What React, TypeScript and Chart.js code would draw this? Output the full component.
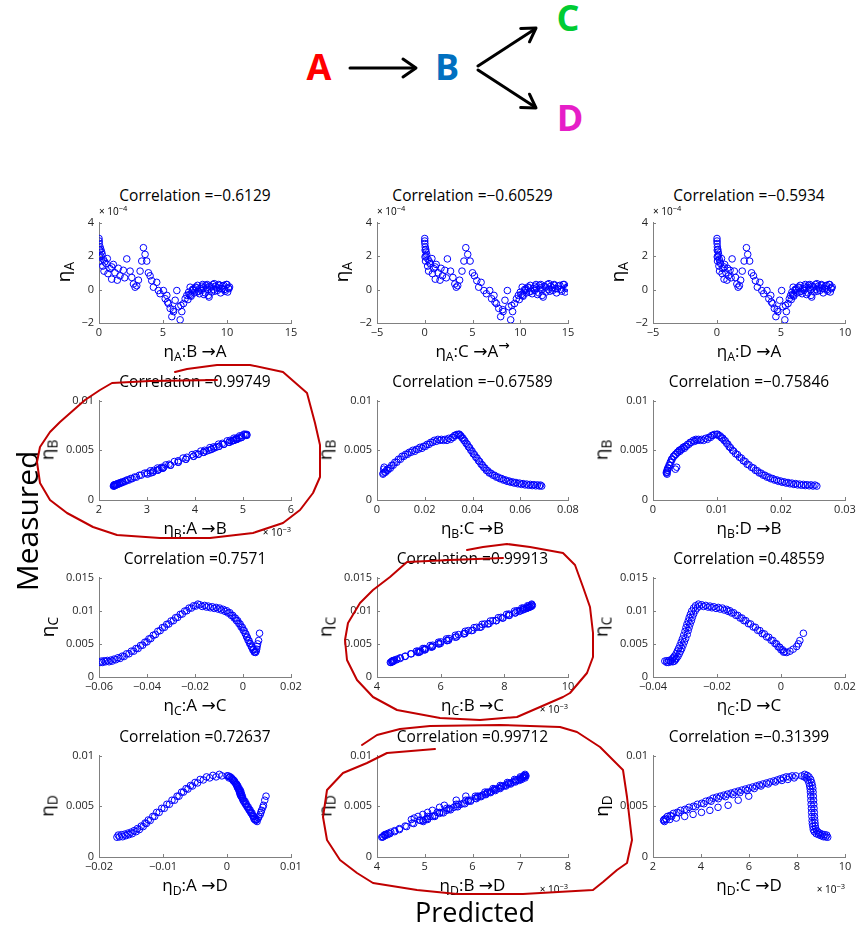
import React, { useEffect, useRef } from 'react';
import { Chart, registerables } from 'chart.js';

Chart.register(...registerables);

const FONT = '"Open Sans", "DejaVu Sans", sans-serif';
const AXIS_COLOR = '#808080';
const TICK_COLOR = '#262626';
const MARK = 'rgb(0,0,255)';
const RED = '#c00000';

// ---------- Row 1: eta_A (values in units of 1e-4) ----------
const etaA = [
  3.05, 2.75, 2.55, 2.40, 2.25, 2.10, 1.95, 1.70, 1.80, 1.55,
  1.85, 1.10, 1.25, 1.50, 1.00, 0.62, 1.27, 0.82, 1.15, 1.83,
  0.56, 1.10, 0.72, 0.33, 0.14, 0.23, 0.56, 1.10, 1.70, 2.50,
  2.10, 1.70, 1.00, 0.82, 0.53, 0.14, 0.43, -0.06, -0.25, -0.06,
  -0.55, -0.35, -0.84, -1.13, -1.62, -1.32, -0.64, -0.06, -1.03, -1.81,
  -1.32, -0.84, -0.55, -0.35, -0.16, 0.14, -0.40, 0.00, -0.20, 0.10,
  -0.10, 0.05, 0.20, -0.30, 0.25, 0.00, -0.45, 0.15, 0.30, -0.10,
  0.10, 0.30, -0.20, 0.20, 0.00, 0.30, -0.15, 0.15, -0.05, 0.15,
  -0.25, 0.10, 0.30, -0.15, 0.20, 0.05, 0.25, 0.10, -0.30, -0.60,
  -0.35, 0.05, -0.15, 0.25, -0.05, 0.30, -0.20, 0.10, -0.35, 0.20,
  0.00, 0.35, -0.05, 0.25, 0.05, -0.10, 0.30, 0.05, 2.90, 2.35,
  2.00, 1.40, 1.65, 0.95, 1.35, 0.70, -0.75, -1.20, -0.95,
];
const xA_BA = [
  0.00, 0.02, 0.08, 0.14, 0.20, 0.25, 0.04, 0.08, 0.34, 0.55,
  0.65, 0.39, 0.86, 1.12, 1.25, 0.99, 1.51, 1.64, 1.90, 2.17,
  1.43, 2.43, 2.56, 2.69, 2.82, 2.95, 3.08, 3.21, 3.34, 3.47,
  3.60, 3.73, 3.86, 3.99, 4.12, 4.25, 4.51, 4.64, 4.77, 5.03,
  5.17, 5.30, 5.43, 5.56, 5.69, 5.82, 5.95, 6.08, 6.21, 6.34,
  6.47, 6.60, 6.73, 6.86, 7.00, 7.12, 7.20, 7.30, 7.45, 7.60,
  7.75, 7.90, 8.05, 8.20, 8.35, 8.50, 8.60, 8.75, 8.90, 9.05,
  9.20, 9.35, 9.50, 9.65, 9.80, 9.95, 10.05, 10.20, 7.35, 7.55,
  7.85, 8.15, 8.45, 8.80, 9.10, 9.45, 9.75, 10.10, 7.05, 6.95,
  7.15, 7.40, 7.65, 7.70, 8.00, 8.10, 8.30, 8.40, 8.55, 8.65,
  8.95, 9.00, 9.25, 9.40, 9.60, 9.85, 10.00, 10.15, 0.01, 0.05,
  0.15, 0.30, 0.45, 0.70, 1.00, 2.00, 5.35, 5.80, 6.40,
];
const xA_CA = [
  0.00, 0.01, 0.05, 0.10, 0.14, 0.20, 0.03, 0.08, 0.35, 0.55,
  0.75, 0.40, 0.95, 1.20, 1.40, 1.10, 1.70, 1.85, 2.10, 2.37,
  1.60, 2.70, 2.95, 3.15, 3.30, 3.45, 3.65, 3.90, 4.10, 4.30,
  4.50, 4.75, 5.00, 5.20, 5.45, 5.65, 5.90, 6.20, 6.45, 6.80,
  7.00, 7.25, 7.50, 7.75, 7.95, 8.20, 8.40, 8.65, 8.80, 9.00,
  9.20, 9.40, 9.60, 9.80, 10.00, 10.20, 10.30, 10.45, 10.65, 10.90,
  11.10, 11.35, 11.55, 11.80, 12.00, 12.25, 12.40, 12.65, 12.85, 13.10,
  13.35, 13.55, 13.80, 14.00, 14.25, 14.50, 14.70, 14.95, 10.55, 10.80,
  11.25, 11.70, 12.15, 12.70, 13.20, 13.70, 14.15, 14.80, 10.10, 9.90,
  10.25, 10.60, 10.95, 11.05, 11.50, 11.65, 11.95, 12.10, 12.30, 12.50,
  12.95, 13.00, 13.40, 13.60, 13.90, 14.35, 14.60, 14.90, 0.00, 0.04,
  0.12, 0.30, 0.50, 0.80, 1.10, 2.25, 7.35, 8.15, 9.10,
];
const xA_DA = [
  0.00, 0.01, 0.03, 0.06, 0.09, 0.12, 0.02, 0.04, 0.18, 0.28,
  0.35, 0.20, 0.45, 0.60, 0.70, 0.55, 0.82, 0.90, 1.02, 1.18,
  0.78, 1.35, 1.45, 1.55, 1.65, 1.75, 1.85, 1.97, 2.12, 2.30,
  2.40, 2.55, 2.70, 2.85, 3.00, 3.15, 3.35, 3.50, 3.65, 3.90,
  4.05, 4.20, 4.35, 4.48, 4.60, 4.75, 4.90, 5.05, 5.15, 5.30,
  5.42, 5.55, 5.65, 5.75, 5.85, 5.95, 6.00, 6.10, 6.25, 6.40,
  6.55, 6.70, 6.85, 7.00, 7.15, 7.30, 7.40, 7.55, 7.70, 7.85,
  8.00, 8.15, 8.30, 8.45, 8.60, 8.75, 8.85, 9.00, 6.15, 6.35,
  6.65, 6.95, 7.25, 7.60, 7.90, 8.25, 8.55, 8.90, 5.90, 5.80,
  5.97, 6.20, 6.45, 6.50, 6.80, 6.90, 7.10, 7.20, 7.35, 7.45,
  7.75, 7.80, 8.05, 8.20, 8.40, 8.65, 8.80, 8.95, 0.00, 0.02,
  0.07, 0.15, 0.23, 0.40, 0.55, 1.10, 4.25, 4.70, 5.35,
];

// ---------- Row 2: eta_B ----------
const etaB = [
  0.00140, 0.00141, 0.00143, 0.00145, 0.00148, 0.00152, 0.00157, 0.00163, 0.00170, 0.00178,
  0.00188, 0.00200, 0.00214, 0.00230, 0.00250, 0.00272, 0.00298, 0.00328, 0.00360, 0.00395,
  0.00430, 0.00465, 0.00500, 0.00535, 0.00570, 0.00600, 0.00625, 0.00645, 0.00660,
  0.0066, 0.0065, 0.0063, 0.0062, 0.0061, 0.0061, 0.0061, 0.0060, 0.0058, 0.0056,
  0.0054, 0.0053, 0.0051, 0.0050, 0.0048, 0.0046, 0.0044, 0.0041, 0.0038, 0.0035,
  0.0032, 0.0030, 0.0028, 0.0027, 0.0026,
  0.0033, 0.0031,
  0.00150, 0.00152, 0.00154, 0.00157, 0.00160, 0.00165, 0.00170, 0.00176, 0.00183, 0.00192,
  0.00203, 0.00216, 0.00231, 0.00249, 0.00270, 0.00294, 0.00322, 0.00353, 0.00387, 0.00422,
  0.00457, 0.00492, 0.00527, 0.00562, 0.00595, 0.00622, 0.00645, 0.00662,
  0.0065, 0.0063, 0.0061, 0.0060, 0.0060, 0.0060, 0.0059, 0.0058, 0.0056, 0.0054,
  0.0052, 0.0051, 0.0049, 0.0048, 0.0046, 0.0044, 0.0041, 0.0038, 0.0035, 0.0032,
  0.0030, 0.0028,
];
// eta_B : A -> B, units of 1e-3
const xB_AB = [
  2.30, 2.31, 2.32, 2.33, 2.34, 2.36, 2.39, 2.42, 2.46, 2.50,
  2.55, 2.62, 2.69, 2.78, 2.88, 3.00, 3.14, 3.30, 3.46, 3.65,
  3.83, 4.02, 4.20, 4.39, 4.57, 4.73, 4.87, 4.97, 5.05,
  5.08, 5.06, 4.97, 4.92, 4.87, 4.86, 4.85, 4.81, 4.71, 4.60,
  4.50, 4.44, 4.34, 4.29, 4.18, 4.07, 3.97, 3.81, 3.65, 3.49,
  3.33, 3.23, 3.12, 3.07, 3.01,
  3.35, 3.25,
  2.31, 2.32, 2.33, 2.35, 2.37, 2.39, 2.42, 2.45, 2.49, 2.54,
  2.59, 2.66, 2.74, 2.84, 2.95, 3.07, 3.22, 3.39, 3.57, 3.75,
  3.94, 4.12, 4.31, 4.49, 4.67, 4.81, 4.93, 5.02,
  5.08, 4.97, 4.87, 4.81, 4.80, 4.79, 4.76, 4.71, 4.60, 4.50,
  4.39, 4.34, 4.23, 4.18, 4.07, 3.97, 3.81, 3.65, 3.49, 3.33,
  3.22, 3.12,
];
const xB_CB = [
  0.0690, 0.0680, 0.0665, 0.0650, 0.0635, 0.0620, 0.0605, 0.0590, 0.0575, 0.0560,
  0.0545, 0.0530, 0.0515, 0.0500, 0.0485, 0.0470, 0.0458, 0.0447, 0.0436, 0.0425,
  0.0414, 0.0403, 0.0393, 0.0383, 0.0373, 0.0364, 0.0356, 0.0349, 0.0342,
  0.0335, 0.0325, 0.0315, 0.0300, 0.0285, 0.0270, 0.0255, 0.0240, 0.0225, 0.0210,
  0.0195, 0.0180, 0.0165, 0.0150, 0.0135, 0.0120, 0.0105, 0.0090, 0.0075, 0.0062,
  0.0050, 0.0040, 0.0032, 0.0026, 0.0025,
  0.0030, 0.0028,
  0.0685, 0.0672, 0.0657, 0.0642, 0.0627, 0.0612, 0.0597, 0.0582, 0.0567, 0.0552,
  0.0537, 0.0522, 0.0507, 0.0492, 0.0477, 0.0464, 0.0452, 0.0441, 0.0430, 0.0419,
  0.0408, 0.0398, 0.0388, 0.0378, 0.0368, 0.0360, 0.0352, 0.0345,
  0.0330, 0.0320, 0.0308, 0.0293, 0.0278, 0.0263, 0.0248, 0.0233, 0.0218, 0.0203,
  0.0188, 0.0173, 0.0158, 0.0143, 0.0128, 0.0113, 0.0098, 0.0083, 0.0068, 0.0056,
  0.0045, 0.0036,
];
const xB_DB = [
  0.0256, 0.0250, 0.0244, 0.0238, 0.0232, 0.0226, 0.0220, 0.0214, 0.0208, 0.0202,
  0.0196, 0.0190, 0.0184, 0.0178, 0.0172, 0.0166, 0.0160, 0.0154, 0.0147, 0.0141,
  0.0135, 0.0129, 0.0124, 0.0119, 0.0115, 0.0111, 0.0107, 0.0103, 0.0099,
  0.0096, 0.0092, 0.0087, 0.0082, 0.0076, 0.0071, 0.0067, 0.0063, 0.0058, 0.0054,
  0.0050, 0.0047, 0.0044, 0.0041, 0.0038, 0.0035, 0.0032, 0.0029, 0.0027, 0.0025,
  0.0023, 0.0022, 0.0021, 0.0021, 0.0022,
  0.0037, 0.0035,
  0.0253, 0.0247, 0.0241, 0.0235, 0.0229, 0.0223, 0.0217, 0.0211, 0.0205, 0.0199,
  0.0193, 0.0187, 0.0181, 0.0175, 0.0169, 0.0163, 0.0157, 0.0150, 0.0144, 0.0138,
  0.0132, 0.0126, 0.0121, 0.0117, 0.0113, 0.0109, 0.0105, 0.0101,
  0.0094, 0.0090, 0.0085, 0.0079, 0.0074, 0.0069, 0.0065, 0.0060, 0.0056, 0.0052,
  0.0049, 0.0045, 0.0042, 0.0039, 0.0036, 0.0033, 0.0030, 0.0028, 0.0026, 0.0024,
  0.0023, 0.0022,
];

// ---------- Row 3: eta_C ----------
const etaC = [
  0.0022, 0.0022, 0.0023, 0.0023, 0.0024, 0.0026, 0.0028, 0.0031, 0.0035, 0.0039,
  0.0043, 0.0048, 0.0053, 0.0058, 0.0064, 0.0070, 0.0075, 0.0080, 0.0085, 0.0090,
  0.0095, 0.0100, 0.0104, 0.0107, 0.0109,
  0.0108, 0.0107, 0.0106, 0.0105, 0.0104, 0.0102, 0.0100, 0.0097, 0.0093, 0.0089,
  0.0085, 0.0080, 0.0075, 0.0070, 0.0065, 0.0060, 0.0055, 0.0050, 0.0045, 0.0041,
  0.0038, 0.0037,
  0.0039, 0.0042, 0.0046, 0.0050, 0.0055, 0.0066,
  0.0024, 0.00245, 0.0025, 0.00255, 0.0027, 0.0029, 0.00315, 0.0035, 0.0039, 0.0043,
  0.00475, 0.00525, 0.00575, 0.0063, 0.0069, 0.00745, 0.00795, 0.00845, 0.00895, 0.00945,
  0.00995, 0.0104, 0.01075, 0.0110,
  0.01065, 0.01055, 0.01045, 0.01035, 0.01025, 0.0101, 0.0099, 0.00965, 0.0093, 0.0089,
  0.0085, 0.00805, 0.00755, 0.00705, 0.00655, 0.00605, 0.00555, 0.00505, 0.00455, 0.0041,
  0.00375,
];
const xC_AC = [
  -0.0595, -0.0585, -0.0572, -0.0558, -0.0545, -0.0530, -0.0512, -0.0495, -0.0475, -0.0455,
  -0.0437, -0.0418, -0.0400, -0.0384, -0.0365, -0.0345, -0.0327, -0.0309, -0.0290, -0.0272,
  -0.0253, -0.0234, -0.0215, -0.0197, -0.0180,
  -0.0160, -0.0145, -0.0128, -0.0112, -0.0097, -0.0082, -0.0068, -0.0055, -0.0043, -0.0032,
  -0.0022, -0.0012, -0.0003, 0.0005, 0.0012, 0.0018, 0.0025, 0.0031, 0.0038, 0.0044,
  0.0049, 0.0052,
  0.0055, 0.0057, 0.0059, 0.0061, 0.0065, 0.0069,
  -0.0590, -0.0578, -0.0565, -0.0551, -0.0537, -0.0521, -0.0503, -0.0485, -0.0465, -0.0446,
  -0.0427, -0.0409, -0.0392, -0.0374, -0.0355, -0.0336, -0.0318, -0.0300, -0.0281, -0.0262,
  -0.0243, -0.0225, -0.0206, -0.0188,
  -0.0170, -0.0152, -0.0136, -0.0120, -0.0104, -0.0090, -0.0075, -0.0062, -0.0049, -0.0037,
  -0.0027, -0.0017, -0.0008, 0.0001, 0.0009, 0.0015, 0.0021, 0.0028, 0.0035, 0.0041,
  0.0047,
];
// eta_C : B -> C, units of 1e-3
const xC_BC = [
  4.42, 4.44, 4.47, 4.49, 4.52, 4.62, 4.73, 4.88, 5.08, 5.29,
  5.49, 5.75, 6.00, 6.26, 6.56, 6.87, 7.13, 7.38, 7.64, 7.89,
  8.14, 8.40, 8.60, 8.76, 8.86,
  8.88, 8.84, 8.80, 8.75, 8.70, 8.60, 8.50, 8.35, 8.14, 7.94,
  7.74, 7.48, 7.23, 6.97, 6.72, 6.46, 6.21, 5.95, 5.70, 5.49,
  5.34, 5.29,
  5.37, 5.52, 5.73, 5.93, 6.19, 6.75,
  4.47, 4.50, 4.52, 4.55, 4.63, 4.73, 4.89, 5.06, 5.24, 5.44,
  5.67, 5.93, 6.18, 6.46, 6.77, 7.05, 7.30, 7.56, 7.81, 8.07,
  8.32, 8.55, 8.73, 8.86,
  8.85, 8.80, 8.75, 8.70, 8.64, 8.57, 8.47, 8.34, 8.16, 7.96,
  7.75, 7.52, 7.27, 7.01, 6.76, 6.50, 6.25, 5.99, 5.74, 5.51,
  5.33,
];
const xC_DC = [
  -0.0357, -0.0352, -0.0345, -0.0338, -0.0333, -0.0330, -0.0327, -0.0322, -0.0318, -0.0314,
  -0.0310, -0.0306, -0.0302, -0.0298, -0.0293, -0.0290, -0.0287, -0.0284, -0.0280, -0.0277,
  -0.0273, -0.0268, -0.0262, -0.0255, -0.0248,
  -0.0235, -0.0222, -0.0210, -0.0196, -0.0183, -0.0170, -0.0160, -0.0148, -0.0135, -0.0122,
  -0.0110, -0.0095, -0.0080, -0.0066, -0.0052, -0.0038, -0.0025, -0.0014, -0.0004, 0.0005,
  0.0012, 0.0018,
  0.0028, 0.0038, 0.0049, 0.0054, 0.0059, 0.0070,
  -0.0363, -0.0357, -0.0350, -0.0344, -0.0340, -0.0337, -0.0333, -0.0328, -0.0324, -0.0320,
  -0.0316, -0.0312, -0.0308, -0.0304, -0.0300, -0.0297, -0.0294, -0.0290, -0.0287, -0.0283,
  -0.0279, -0.0273, -0.0267, -0.0258,
  -0.0242, -0.0228, -0.0216, -0.0203, -0.0190, -0.0177, -0.0165, -0.0154, -0.0141, -0.0128,
  -0.0116, -0.0102, -0.0087, -0.0073, -0.0059, -0.0045, -0.0031, -0.0019, -0.0009, 0.0000,
  0.0008,
];

// ---------- Row 4: eta_D ----------
const etaD = [
  0.00195, 0.00198, 0.0020, 0.0021, 0.0022, 0.0023, 0.0025, 0.0027, 0.0030, 0.0033,
  0.0036, 0.0040, 0.0044, 0.0048, 0.0052, 0.0056, 0.0060, 0.0064, 0.0067, 0.0070,
  0.0073, 0.0076, 0.0078, 0.0079, 0.0080,
  0.0080, 0.0080, 0.0079, 0.0079, 0.0078, 0.0077, 0.0076, 0.0075, 0.0074, 0.0073,
  0.0072, 0.0071, 0.0070, 0.0069, 0.0068, 0.0067, 0.0066, 0.0065, 0.0064, 0.0063,
  0.0062, 0.0061, 0.0060, 0.0059, 0.0058, 0.0056, 0.0055, 0.0053, 0.0052, 0.0050,
  0.0049, 0.0047, 0.0046, 0.0044, 0.0043, 0.0041, 0.0040, 0.0038, 0.0037, 0.0036,
  0.0037, 0.00384, 0.0040, 0.0042, 0.0044, 0.0046, 0.0049, 0.0051, 0.0056, 0.0060,
  0.00216, 0.0022, 0.00225, 0.00235, 0.00245, 0.0026, 0.0028, 0.00305, 0.00335, 0.00365,
  0.0040, 0.0044, 0.0048, 0.0052, 0.0056, 0.0060, 0.0064, 0.00675, 0.00705, 0.00735,
  0.00765, 0.0079, 0.00805, 0.00815,
  0.0078, 0.00765, 0.00755, 0.0074, 0.0072, 0.0070, 0.00675, 0.00655, 0.00635, 0.00615,
  0.00595, 0.00575, 0.0055, 0.00525, 0.00495, 0.00465, 0.00435, 0.0040, 0.0037, 0.0035,
];
const xD_AD = [
  -0.0172, -0.0168, -0.0163, -0.0158, -0.0153, -0.0148, -0.0142, -0.0137, -0.0131, -0.0126,
  -0.0120, -0.0113, -0.0106, -0.0098, -0.0090, -0.0082, -0.0075, -0.0068, -0.0061, -0.0054,
  -0.0046, -0.0037, -0.0027, -0.0017, -0.0008,
  0.0000, 0.0002, 0.0004, 0.0005, 0.0007, 0.0008, 0.0009, 0.0010, 0.0012, 0.0013,
  0.0014, 0.0015, 0.0016, 0.0016, 0.0017, 0.0018, 0.0019, 0.0019, 0.0020, 0.0020,
  0.0021, 0.0021, 0.0022, 0.0023, 0.0024, 0.0025, 0.0026, 0.0028, 0.0029, 0.0031,
  0.0032, 0.0034, 0.0035, 0.0037, 0.0038, 0.0040, 0.0041, 0.0042, 0.0043, 0.0045,
  0.0047, 0.0049, 0.0050, 0.0052, 0.0053, 0.0054, 0.0056, 0.0057, 0.0059, 0.0061,
  -0.0170, -0.0165, -0.0160, -0.0155, -0.0150, -0.0145, -0.0140, -0.0134, -0.0128, -0.0123,
  -0.0116, -0.0110, -0.0102, -0.0094, -0.0086, -0.0078, -0.0071, -0.0064, -0.0057, -0.0050,
  -0.0042, -0.0032, -0.0022, -0.0012,
  0.0003, 0.0009, 0.0011, 0.0012, 0.0015, 0.0017, 0.0019, 0.0021, 0.0022, 0.0023,
  0.0024, 0.0025, 0.0028, 0.0030, 0.0033, 0.0036, 0.0039, 0.0042, 0.0045, 0.0047,
];
// eta_D : B -> D, units of 1e-3
const xD_BD = [
  4.10, 4.12, 4.13, 4.17, 4.22, 4.27, 4.37, 4.47, 4.62, 4.77,
  4.91, 5.11, 5.31, 5.51, 5.71, 5.91, 6.11, 6.31, 6.46, 6.61,
  6.76, 6.91, 7.01, 7.06, 7.10,
  7.12, 7.10, 7.08, 7.06, 7.05, 7.00, 6.95, 6.90, 6.85, 6.80,
  6.75, 6.70, 6.65, 6.60, 6.55, 6.50, 6.45, 6.40, 6.36, 6.31,
  6.26, 6.21, 6.16, 6.11, 6.06, 5.96, 5.91, 5.81, 5.76, 5.66,
  5.61, 5.51, 5.46, 5.36, 5.31, 5.21, 5.16, 5.06, 5.01, 4.96,
  4.72, 4.78, 4.86, 4.96, 5.06, 5.16, 5.31, 5.41, 5.66, 5.86,
  4.15, 4.17, 4.19, 4.24, 4.29, 4.37, 4.47, 4.59, 4.74, 4.89,
  5.06, 5.26, 5.46, 5.66, 5.86, 6.06, 6.26, 6.43, 6.58, 6.73,
  6.88, 7.00, 7.08, 7.10,
  7.10, 7.03, 6.98, 6.90, 6.80, 6.70, 6.58, 6.48, 6.38, 6.28,
  6.18, 6.08, 5.96, 5.84, 5.69, 5.54, 5.39, 5.21, 5.06, 4.97,
];
// eta_D : C -> D, units of 1e-3
const xD_CD = [
  9.28, 9.20, 9.10, 9.00, 8.90, 8.80, 8.72, 8.68, 8.66, 8.64,
  8.63, 8.62, 8.61, 8.60, 8.59, 8.58, 8.57, 8.56, 8.55, 8.53,
  8.50, 8.45, 8.38, 8.30, 8.20,
  7.95, 7.80, 7.68, 7.55, 7.43, 7.30, 7.18, 7.03, 6.88, 6.73,
  6.58, 6.43, 6.30, 6.15, 6.00, 5.85, 5.70, 5.55, 5.40, 5.25,
  5.10, 4.95, 4.80, 4.65, 4.50, 4.35, 4.20, 4.03, 3.85, 3.68,
  3.50, 3.33, 3.15, 3.00, 2.85, 2.72, 2.60, 2.52, 2.46, 2.44,
  2.70, 2.97, 3.32, 3.67, 4.02, 4.37, 4.71, 5.13, 5.55, 5.99,
  9.24, 9.15, 9.05, 8.95, 8.88, 8.82, 8.78, 8.76, 8.75, 8.74,
  8.73, 8.72, 8.71, 8.70, 8.69, 8.68, 8.67, 8.66, 8.64, 8.61,
  8.57, 8.50, 8.42, 8.32,
  7.88, 7.62, 7.37, 7.10, 6.80, 6.50, 6.22, 5.92, 5.62, 5.32,
  5.02, 4.72, 4.42, 4.12, 3.77, 3.41, 3.07, 2.78, 2.56, 2.48,
];

// ---------- Titles and tick labels ----------
const titles = [
  'Correlation =\u22120.6129', 'Correlation =\u22120.60529', 'Correlation =\u22120.5934',
  'Correlation =0.99749', 'Correlation =\u22120.67589', 'Correlation =\u22120.75846',
  'Correlation =0.7571', 'Correlation =0.99913', 'Correlation =0.48559',
  'Correlation =0.72637', 'Correlation =0.99712', 'Correlation =\u22120.31399',
];
const measuredNames = ['A', 'B', 'C', 'D'];
const sourceNames = [['B', 'C', 'D'], ['A', 'C', 'D'], ['A', 'B', 'D'], ['A', 'B', 'C']];

const yTicksA = [-2, 0, 2, 4];
const yTicksB = [0, 0.005, 0.01];
const yTicksC = [0, 0.005, 0.01, 0.015];
const yTicksD = [0, 0.005, 0.01];

const xTicksBA = [0, 5, 10, 15];
const xTicksCA = [-5, 0, 5, 10, 15];
const xTicksDA = [-5, 0, 5, 10];
const xTicksAB = [2, 3, 4, 5, 6];
const xTicksCB = [0, 0.02, 0.04, 0.06, 0.08];
const xTicksDB = [0, 0.01, 0.02, 0.03];
const xTicksAC = [-0.06, -0.04, -0.02, 0, 0.02];
const xTicksBC = [4, 6, 8, 10];
const xTicksDC = [-0.04, -0.02, 0, 0.02];
const xTicksAD = [-0.02, -0.01, 0, 0.01];
const xTicksBD = [4, 5, 6, 7, 8];
const xTicksCD = [2, 4, 6, 8, 10];

const plots = [
  { x: xA_BA, y: etaA, xt: xTicksBA, yt: yTicksA, yExp: '\u22124' },
  { x: xA_CA, y: etaA, xt: xTicksCA, yt: yTicksA, yExp: '\u22124', glitch: true },
  { x: xA_DA, y: etaA, xt: xTicksDA, yt: yTicksA, yExp: '\u22124' },
  { x: xB_AB, y: etaB, xt: xTicksAB, yt: yTicksB, xExp: '\u22123' },
  { x: xB_CB, y: etaB, xt: xTicksCB, yt: yTicksB },
  { x: xB_DB, y: etaB, xt: xTicksDB, yt: yTicksB },
  { x: xC_AC, y: etaC, xt: xTicksAC, yt: yTicksC },
  { x: xC_BC, y: etaC, xt: xTicksBC, yt: yTicksC, xExp: '\u22123' },
  { x: xC_DC, y: etaC, xt: xTicksDC, yt: yTicksC },
  { x: xD_AD, y: etaD, xt: xTicksAD, yt: yTicksD },
  { x: xD_BD, y: etaD, xt: xTicksBD, yt: yTicksD, xExp: '\u22123' },
  { x: xD_CD, y: etaD, xt: xTicksCD, yt: yTicksD, xExp: '\u22123' },
];

// ---------- Layout ----------
const COL_L = [99, 377, 653];
const COL_R = [291, 568, 845];
const ROW_T = [221, 399, 576, 754];
const ROW_B = [323, 500, 677, 857];
const AXW = 50, AXH = 24, PADT = 10, PADR = 24;

const fmt = (v: number) => String(v).replace('-', '\u2212');

const innerTicks = {
  id: 'innerTicks',
  afterDraw(chart: any) {
    const { ctx, chartArea } = chart;
    const xs = chart.scales.x, ys = chart.scales.y;
    ctx.save();
    ctx.strokeStyle = AXIS_COLOR;
    ctx.lineWidth = 1;
    ctx.beginPath();
    xs.ticks.forEach((t: any) => {
      const px = Math.round(xs.getPixelForValue(t.value)) + 0.5;
      ctx.moveTo(px, chartArea.bottom);
      ctx.lineTo(px, chartArea.bottom - 3);
    });
    ys.ticks.forEach((t: any) => {
      const py = Math.round(ys.getPixelForValue(t.value)) + 0.5;
      ctx.moveTo(chartArea.left, py);
      ctx.lineTo(chartArea.left + 3, py);
    });
    ctx.stroke();
    ctx.restore();
  },
};

function axisOpts(ticks: number[], dir: 'x' | 'y') {
  return {
    type: 'linear',
    position: dir === 'x' ? 'bottom' : 'left',
    min: ticks[0],
    max: ticks[ticks.length - 1],
    afterBuildTicks: (s: any) => { s.ticks = ticks.map((v) => ({ value: v })); },
    afterFit: (s: any) => { if (dir === 'x') s.height = AXH; else s.width = AXW; },
    grid: { display: false, drawTicks: false },
    border: { display: true, color: AXIS_COLOR, width: 1 },
    ticks: {
      color: TICK_COLOR,
      font: { family: FONT, size: 11 },
      padding: dir === 'x' ? 3 : 5,
      maxRotation: 0,
      autoSkip: false,
      callback: (v: any) => fmt(Number(v)),
    },
  };
}

function Sub({ children }: any) {
  return <span style={{ fontSize: '0.72em', position: 'relative', top: '0.32em' }}>{children}</span>;
}
function Sup({ children }: any) {
  return <span style={{ fontSize: '0.75em', position: 'relative', top: '-0.6em' }}>{children}</span>;
}

function Txt({ x, y, size, children, rotate = false, align = 'center', weight = 400, color = '#000' }: any) {
  const tx = align === 'center' ? '-50%' : align === 'right' ? '-100%' : '0';
  return (
    <div
      style={{
        position: 'absolute', left: x, top: y,
        transform: `translate(${tx}, -50%)${rotate ? ' rotate(-90deg)' : ''}`,
        fontFamily: FONT, fontSize: size, lineHeight: 1, whiteSpace: 'nowrap',
        color, fontWeight: weight,
      }}
    >
      {children}
    </div>
  );
}

function Plot({ p, L, T, R, B }: any) {
  const ref = useRef<HTMLCanvasElement>(null);
  const w = R - L + AXW + PADR;
  const h = B - T + PADT + AXH;
  useEffect(() => {
    const pts = p.x.map((v: number, i: number) => ({ x: v, y: p.y[i] }));
    const chart = new Chart(ref.current as HTMLCanvasElement, {
      type: 'scatter',
      data: {
        datasets: [{
          data: pts,
          pointRadius: 3.3,
          pointHoverRadius: 3.3,
          pointBorderWidth: 1,
          pointBorderColor: MARK,
          pointBackgroundColor: 'rgba(0,0,0,0)',
          showLine: false,
        }],
      },
      options: {
        animation: false,
        responsive: false,
        devicePixelRatio: 1,
        events: [],
        layout: { padding: { left: 0, top: PADT, right: PADR, bottom: 0 } },
        plugins: { legend: { display: false }, tooltip: { enabled: false } },
        scales: { x: axisOpts(p.xt, 'x') as any, y: axisOpts(p.yt, 'y') as any },
      },
      plugins: [innerTicks],
    });
    return () => chart.destroy();
  }, []);
  return (
    <canvas
      ref={ref}
      width={w}
      height={h}
      style={{ position: 'absolute', left: L - AXW, top: T - PADT, width: w, height: h }}
    />
  );
}

const red1 = '175,372 187,369 217,365 250,365 283,372 307,393 315,423 320,445 320,477 313,493 300,510 283,523 253,533 210,538 160,538 117,535 93,527 67,513 50,500 40,483 37,462 40,447 50,432 60,422 85,400 100,390 112,383 150,381 217,380';
const red2 = '467,550 483,547 507,544 530,547 563,553 575,565 583,587 590,607 593,633 593,657 587,673 570,693 563,697 540,707 517,717 480,720 440,718 397,710 373,697 357,680 347,660 345,640 348,623 360,603 373,590 390,577 407,562 450,560 503,558';
const red3 = '362,745 377,735 400,729 430,726 500,725 560,727 577,732 600,747 613,760 623,770 627,797 630,823 632,840 627,863 617,870 603,882 593,890 523,894 457,894 417,890 373,883 357,873 340,860 327,840 323,817 327,790 343,773 367,763 387,753 435,749';

export default function App() {
  const items: any[] = [];
  plots.forEach((p, i) => {
    const r = Math.floor(i / 3), c = i % 3;
    const L = COL_L[c], R = COL_R[c], T = ROW_T[r], B = ROW_B[r];
    const cx = (L + R) / 2;
    const m = measuredNames[r];
    const s = sourceNames[r][c];
    items.push(<Plot key={'p' + i} p={p} L={L} T={T} R={R} B={B} />);
    items.push(<Txt key={'t' + i} x={cx} y={T - (r === 0 ? 25 : 17)} size={15.5}>{titles[i]}</Txt>);
    items.push(
      <Txt key={'xl' + i} x={cx} y={B + 28} size={17}>
        η<Sub>{m}</Sub>:{s} →{m}
        {p.glitch ? <span style={{ fontSize: '0.8em', position: 'relative', top: '-0.55em' }}>→</span> : null}
      </Txt>
    );
    items.push(
      <Txt key={'yl' + i} x={L - (r === 0 ? 36 : 52)} y={(T + B) / 2} size={19} rotate>
        η<Sub>{m}</Sub>
      </Txt>
    );
    if (p.yExp) {
      items.push(<Txt key={'ye' + i} x={L} y={T - 10} size={10} align="left">× 10<Sup>{p.yExp}</Sup></Txt>);
    }
    if (p.xExp) {
      items.push(<Txt key={'xe' + i} x={R} y={B + 32} size={10} align="right">× 10<Sup>{p.xExp}</Sup></Txt>);
    }
  });

  return (
    <div style={{ position: 'absolute', left: 0, top: 0, width: 858, height: 930, overflow: 'hidden', background: '#fff' }}>
      {items}
      <Txt x={319} y={67} size={36} weight={700} color="#ff0000">A</Txt>
      <Txt x={447} y={67} size={36} weight={700} color="#0070c0">B</Txt>
      <Txt x={568} y={18} size={36} weight={700} color="#00cc33">C</Txt>
      <Txt x={570} y={118} size={36} weight={700} color="#e61ec8">D</Txt>
      <Txt x={27} y={521} size={30} rotate>Measured</Txt>
      <Txt x={475} y={911} size={27}>Predicted</Txt>
      <svg width={858} height={930} style={{ position: 'absolute', left: 0, top: 0, pointerEvents: 'none' }}>
        <g stroke="#000" strokeWidth={3} fill="none" strokeLinecap="round" strokeLinejoin="round">
          <line x1={350} y1={68} x2={414} y2={68} />
          <polyline points="403,59 416,68 403,77" />
          <line x1={478} y1={66} x2={535} y2={29} />
          <polyline points="520.7,28.4 536,28 529.5,41.8" />
          <line x1={478} y1={70} x2={535} y2={107} />
          <polyline points="529.5,94.2 536,108 520.7,107.6" />
        </g>
        <g stroke={RED} strokeWidth={2} fill="none" strokeLinecap="round" strokeLinejoin="round">
          <polyline points={red1} />
          <polyline points={red2} />
          <polyline points={red3} />
        </g>
      </svg>
    </div>
  );
}
